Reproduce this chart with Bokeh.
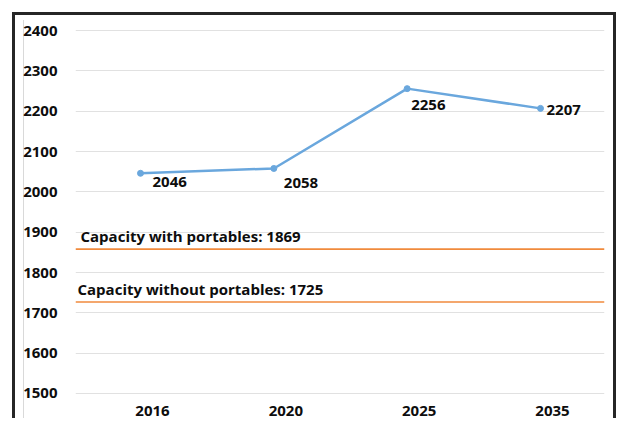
from bokeh.plotting import figure
from bokeh.models import Range1d, FixedTicker, ColumnDataSource, Span
from bokeh.transform import dodge
from bokeh.core.properties import value
from bokeh.embed import file_html
from bokeh.resources import INLINE

# ---- data ----
years = ["2016", "2020", "2025", "2035"]
demand = [2046, 2058, 2256, 2207]
capacity_text = ["Capacity with portables: 1869", "Capacity without portables: 1725"]
capacity_level = [1858, 1727]
y_ticks = [1500, 1600, 1700, 1800, 1900, 2000, 2100, 2200, 2300, 2400]

# ---- styles ----
FONT = "Open Sans"
BLUE = "#6aa7dd"
ORANGE = "#f08a3c"
label_dx = [12, 10, 4, 6]
label_dy = [9, 15, 16, 2]
X0, X1 = -0.5775, 3.39

idx = list(range(len(years)))
src = ColumnDataSource(dict(x=idx, y=demand, lab=[str(v) for v in demand],
                            dx=label_dx, dy=label_dy))

p = figure(frame_width=529, frame_height=375,
           min_border_left=75, min_border_right=17, min_border_top=22, min_border_bottom=0,
           x_range=Range1d(X0, X1), y_range=Range1d(1490, 2420),
           output_backend="svg", toolbar_location=None)

p.border_fill_color = None
p.background_fill_color = "white"
p.outline_line_color = None

# grid
p.xgrid.grid_line_color = None
p.ygrid.grid_line_color = "#e1e1e1"
p.ygrid.grid_line_width = 1

# axes
p.yaxis.ticker = FixedTicker(ticks=y_ticks)
p.xaxis.ticker = FixedTicker(ticks=idx)
p.xaxis.major_label_overrides = {i: y for i, y in zip(idx, years)}
for ax in (p.xaxis, p.yaxis):
    ax.axis_line_color = None
    ax.major_tick_line_color = None
    ax.minor_tick_line_color = None
    ax.major_label_text_font = FONT
    ax.major_label_text_font_style = "bold"
    ax.major_label_text_font_size = "15px"
    ax.major_label_text_color = "#0d0d0d"
p.yaxis.major_label_standoff = 12
p.xaxis.major_label_standoff = 2

# capacity lines
for lvl in capacity_level:
    p.add_layout(Span(location=lvl, dimension="width", line_color=ORANGE, line_width=1.6))

cap_src = ColumnDataSource(dict(x=[X0, X0], y=capacity_level, t=capacity_text, dx=[5, 2]))
p.text(x="x", y="y", text="t", x_offset="dx", y_offset=-13, source=cap_src,
       text_font=value(FONT), text_font_style="bold", text_font_size="15px",
       text_color="#0d0d0d", text_align="left", text_baseline="alphabetic")

# demand line
xs = dodge("x", -0.09, range=p.x_range)
p.line(x=xs, y="y", source=src, line_color=BLUE, line_width=2.5)
p.scatter(x=xs, y="y", source=src, size=6, fill_color=BLUE, line_color=BLUE)
p.text(x=xs, y="y", text="lab", x_offset="dx", y_offset="dy", source=src,
       text_font=value(FONT), text_font_style="bold", text_font_size="15px",
       text_color="#0d0d0d", text_align="left", text_baseline="middle")

dark = "linear-gradient(#262626,#262626)"
p.styles = {
    "background": (
        f"{dark} left 12px top 12px / 3px calc(100% - 12px) no-repeat, "
        f"{dark} left 12px top 12px / 604px 3px no-repeat, "
        f"{dark} left 613px top 12px / 3px calc(100% - 12px) no-repeat, "
        "linear-gradient(#d9d9d9,#d9d9d9) left 23px top 20px / 1px calc(100% - 20px) no-repeat"
    )
}

open("out.html", "w").write(file_html(p, INLINE))
